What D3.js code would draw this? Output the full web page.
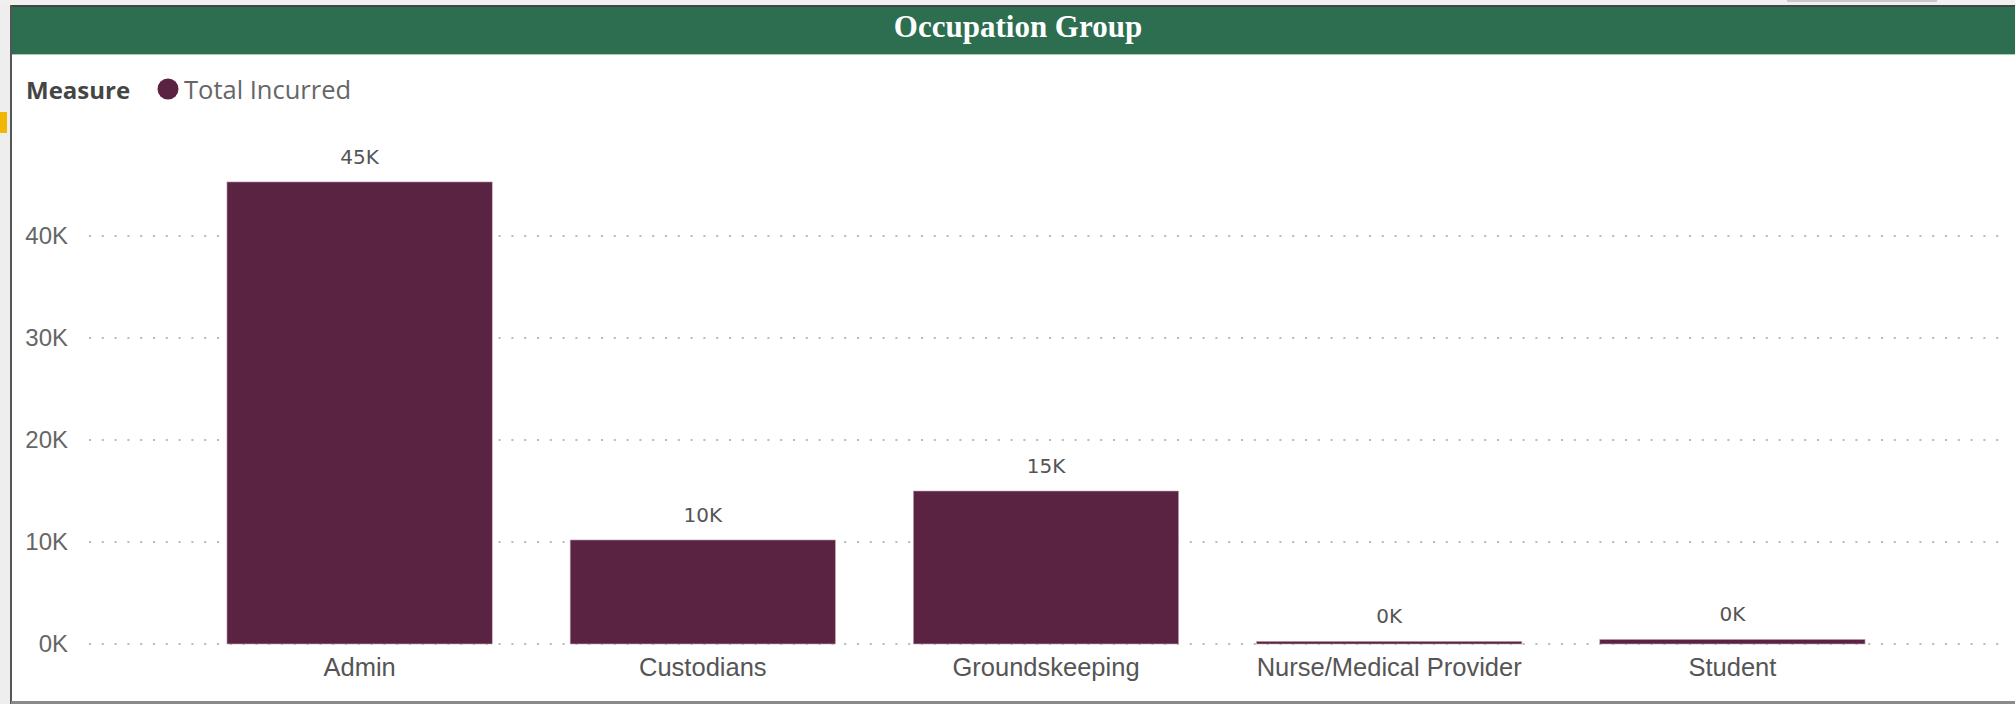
<!DOCTYPE html>
<html>
<head>
<meta charset="utf-8">
<script src="https://d3js.org/d3.v7.min.js"></script>
<style>
  html, body { margin: 0; padding: 0; background: #ffffff; }
  svg { display: block; }
</style>
</head>
<body>
<div id="my_dataviz"></div>
<script>
// chart data
var groups = ["Admin", "Custodians", "Groundskeeping", "Nurse/Medical Provider", "Student"];
var totalIncurred = [45300, 10200, 15000, 260, 450];
var yTicks = [0, 10000, 20000, 30000, 40000];
var yTickLabels = ["0K", "10K", "20K", "30K", "40K"];
var valueLabels = ["45K", "10K", "15K", "0K", "0K"];

var W = 2015, H = 704;
var barColor = "#5a2341";

var data = groups.map(function(g, i) { return {group: g, value: totalIncurred[i], label: valueLabels[i]}; });

var svg = d3.select("#my_dataviz")
  .append("svg")
    .attr("width", W)
    .attr("height", H);

// page background bits around the visual frame
svg.append("rect").attr("x", 0).attr("y", 0).attr("width", W).attr("height", H).attr("fill", "#ffffff");
svg.append("rect").attr("x", 0).attr("y", 0).attr("width", 11).attr("height", H).attr("fill", "#eeeeee");
svg.append("rect").attr("x", 0).attr("y", 0).attr("width", W).attr("height", 5).attr("fill", "#f0f0f0");
svg.append("rect").attr("x", 1787).attr("y", 0).attr("width", 150).attr("height", 2).attr("fill", "#c8c8c8");
svg.append("rect").attr("x", 0).attr("y", 112).attr("width", 7).attr("height", 21).attr("fill", "#f2b705");

// frame borders
svg.append("rect").attr("x", 11).attr("y", 5).attr("width", W).attr("height", 2).attr("fill", "#444444");
svg.append("rect").attr("x", 10).attr("y", 5).attr("width", 2).attr("height", H).attr("fill", "#555555");
svg.append("rect").attr("x", 11).attr("y", 701).attr("width", W).attr("height", 3).attr("fill", "#8a8a8a");

// title band
svg.append("rect")
  .attr("x", 12).attr("y", 7)
  .attr("width", W - 12).attr("height", 47)
  .attr("fill", "#2c6e4f");
svg.append("rect").attr("x", 12).attr("y", 54).attr("width", W - 12).attr("height", 1).attr("fill", "#a9c8b8");
svg.append("text")
  .attr("x", 1018).attr("y", 37)
  .attr("text-anchor", "middle")
  .attr("font-family", "Liberation Serif, serif")
  .attr("font-weight", "bold")
  .attr("font-size", 31)
  .attr("fill", "#ffffff")
  .text("Occupation Group");

// legend
var legend = svg.append("g");
legend.append("text")
  .attr("x", 26).attr("y", 99)
  .attr("font-family", "Open Sans, sans-serif")
  .attr("font-weight", "bold")
  .attr("font-size", 24)
  .attr("fill", "#454545")
  .text("Measure");
legend.append("circle")
  .attr("cx", 168).attr("cy", 89).attr("r", 10.5)
  .attr("fill", barColor);
legend.append("text")
  .attr("x", 184).attr("y", 99)
  .attr("font-family", "Open Sans, sans-serif")
  .attr("font-size", 25.5)
  .attr("fill", "#666666")
  .text("Total Incurred");

// scales
var x = d3.scaleBand()
  .domain(groups)
  .range([188, 1904])
  .paddingInner(0.227)
  .paddingOuter(0.1135);

var y = d3.scaleLinear()
  .domain([0, 50000])
  .range([644, 134]);

// dotted gridlines
svg.append("g")
  .selectAll("line")
  .data(yTicks)
  .enter()
  .append("line")
    .attr("x1", 89).attr("x2", 2005)
    .attr("y1", function(d) { return y(d); })
    .attr("y2", function(d) { return y(d); })
    .attr("stroke", "#b9b9b9")
    .attr("stroke-width", 2)
    .attr("stroke-dasharray", "2,10.8");

// y axis labels
var yAxis = svg.append("g")
  .attr("transform", "translate(68,0)")
  .call(d3.axisLeft(y).tickValues(yTicks).tickSize(0).tickPadding(0)
    .tickFormat(function(d, i) { return yTickLabels[i]; }));
yAxis.select(".domain").remove();
yAxis.selectAll("text")
  .attr("font-family", "Liberation Sans, Arial, sans-serif")
  .attr("font-size", 24)
  .attr("fill", "#666666");

// bars
svg.append("g")
  .selectAll("rect")
  .data(data)
  .enter()
  .append("rect")
    .attr("x", function(d) { return x(d.group); })
    .attr("y", function(d) { return y(d.value); })
    .attr("width", x.bandwidth())
    .attr("height", function(d) { return y(0) - y(d.value); })
    .attr("fill", barColor)
    .attr("stroke", "#c7a9b7")
    .attr("stroke-width", 0.6);

// data labels
svg.append("g")
  .selectAll("text")
  .data(data)
  .enter()
  .append("text")
    .attr("x", function(d) { return x(d.group) + x.bandwidth() / 2; })
    .attr("y", function(d) { return y(d.value) - 18; })
    .attr("text-anchor", "middle")
    .attr("font-family", "DejaVu Sans, sans-serif")
    .attr("font-size", 20)
    .attr("fill", "#555555")
    .text(function(d) { return d.label; });

// x axis labels
var xAxis = svg.append("g")
  .attr("transform", "translate(0,644)")
  .call(d3.axisBottom(x).tickSize(0).tickPadding(14));
xAxis.select(".domain").remove();
xAxis.selectAll("text")
  .attr("font-family", "Liberation Sans, Arial, sans-serif")
  .attr("font-size", 25.5)
  .attr("fill", "#555555");
</script>
</body>
</html>
